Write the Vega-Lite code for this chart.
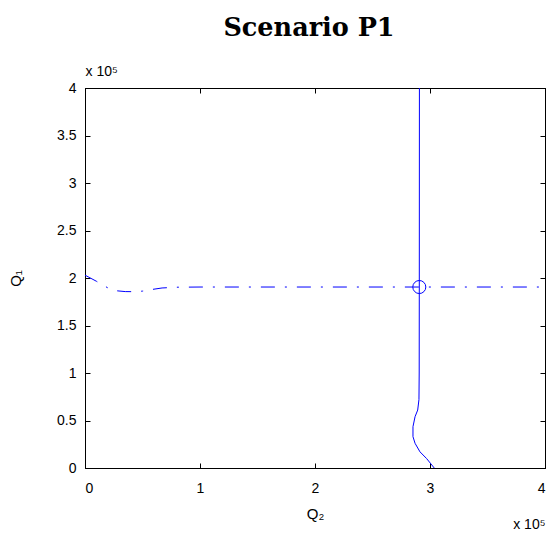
{
  "$schema": "https://vega.github.io/schema/vega-lite/v6.json",
  "width": 460,
  "height": 380,
  "autosize": "none",
  "padding": {"left": 85, "top": 88, "right": 3, "bottom": 70},
  "background": "white",
  "config": {
    "view": {"stroke": "black", "strokeWidth": 1},
    "axis": {
      "domainColor": "black",
      "tickColor": "black",
      "labelColor": "black",
      "titleColor": "black",
      "labelFont": "Liberation Sans",
      "titleFont": "Liberation Sans",
      "labelFontSize": 14,
      "titleFontSize": 15,
      "titleFontWeight": "normal",
      "gridColor": "black",
      "gridOpacity": 1,
      "gridWidth": 1,
      "ticks": false
    }
  },
  "title": {
    "text": "Scenario P1",
    "font": "DejaVu Serif",
    "fontSize": 25.5,
    "fontWeight": "bold",
    "color": "black",
    "anchor": "middle",
    "frame": "group",
    "dx": -6,
    "offset": 23
  },
  "datasets": {
    "h": [
      {"Q2": 0.0, "Q1": 2.03},
      {"Q2": 0.1, "Q1": 1.965},
      {"Q2": 0.2, "Q1": 1.895},
      {"Q2": 0.27, "Q1": 1.866},
      {"Q2": 0.35, "Q1": 1.857},
      {"Q2": 0.43, "Q1": 1.856},
      {"Q2": 0.5, "Q1": 1.862},
      {"Q2": 0.57, "Q1": 1.877},
      {"Q2": 0.67, "Q1": 1.895},
      {"Q2": 0.8, "Q1": 1.903},
      {"Q2": 1.0, "Q1": 1.905},
      {"Q2": 2.0, "Q1": 1.905},
      {"Q2": 3.0, "Q1": 1.905},
      {"Q2": 4.0, "Q1": 1.905}
    ],
    "v": [
      {"Q2": 3.037, "Q1": 0.0},
      {"Q2": 2.97, "Q1": 0.1},
      {"Q2": 2.913, "Q1": 0.17},
      {"Q2": 2.87, "Q1": 0.26},
      {"Q2": 2.852, "Q1": 0.33},
      {"Q2": 2.852, "Q1": 0.435},
      {"Q2": 2.87, "Q1": 0.54},
      {"Q2": 2.893, "Q1": 0.61},
      {"Q2": 2.904, "Q1": 0.72},
      {"Q2": 2.906, "Q1": 1.0},
      {"Q2": 2.907, "Q1": 2.0},
      {"Q2": 2.908, "Q1": 4.0}
    ],
    "pt": [
      {"Q2": 2.907, "Q1": 1.905}
    ]
  },
  "layer": [
    {
      "layer": [
        {
          "data": {"name": "h"},
          "mark": {"type": "line", "color": "#0000ff", "strokeWidth": 1, "strokeDash": [14, 10, 2, 10], "clip": true},
          "encoding": {
            "x": {"field": "Q2", "type": "quantitative", "scale": {"domain": [0, 4], "nice": false, "zero": false},
              "axis": {"values": [0, 1, 2, 3, 4], "format": "~g", "title": "Q₂", "labelPadding": 13, "titlePadding": 11,
                "grid": true, "gridDash": [5, 370, 5]}},
            "y": {"field": "Q1", "type": "quantitative", "scale": {"domain": [0, 4], "nice": false, "zero": false},
              "axis": {"values": [0, 0.5, 1, 1.5, 2, 2.5, 3, 3.5, 4], "format": "~g", "title": "Q₁", "labelPadding": 9, "titlePadding": 33,
                "grid": true, "gridDash": [5, 450, 5]}}
          }
        },
        {
          "data": {"name": "v"},
          "mark": {"type": "line", "color": "#0000ff", "strokeWidth": 1, "clip": true},
          "encoding": {
            "x": {"field": "Q2", "type": "quantitative"},
            "y": {"field": "Q1", "type": "quantitative"},
            "order": {"field": "Q1", "type": "quantitative"}
          }
        }
      ]
    },
    {
      "data": {"name": "pt"},
      "mark": {"type": "point", "shape": "circle", "filled": false, "color": "#0000ff", "strokeWidth": 1, "size": 170, "opacity": 1},
      "encoding": {
        "x": {"field": "Q2", "type": "quantitative", "scale": {"domain": [0, 4], "nice": false, "zero": false},
          "axis": {"orient": "top", "values": [0, 1, 2, 3, 4], "labels": false, "grid": false, "title": "x 10⁵", "titleAnchor": "start", "titleAlign": "left", "titleX": 0, "titleY": -13, "titleBaseline": "alphabetic", "titleFontSize": 14}},
        "y": {"field": "Q1", "type": "quantitative", "scale": {"domain": [0, 4], "nice": false, "zero": false},
          "axis": {"orient": "right", "values": [0, 0.5, 1, 1.5, 2, 2.5, 3, 3.5, 4], "labels": false, "grid": false, "title": "x 10⁵", "titleAngle": 0, "titleAlign": "right", "titleX": 0, "titleY": 440, "titleBaseline": "alphabetic", "titleFontSize": 14}}
      }
    }
  ],
  "resolve": {"axis": {"x": "independent", "y": "independent"}}
}
